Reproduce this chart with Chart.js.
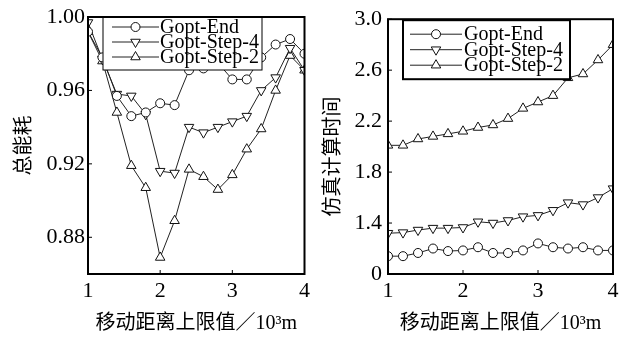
<!DOCTYPE html>
<html>
<head>
<meta charset="utf-8">
<script src="https://cdn.jsdelivr.net/npm/chart.js@4.4.0/dist/chart.umd.min.js"></script>
<style>
body { margin: 0; background: #fff; }
#wrap { position: relative; width: 629px; height: 338px; }
.box { position: absolute; top: 0; height: 338px; }
#left { left: 0; width: 314px; }
#right { left: 314px; width: 315px; }
</style>
</head>
<body>
<div id="wrap">
  <div class="box" id="left"><canvas id="energy"></canvas></div>
  <div class="box" id="right"><canvas id="simtime"></canvas></div>
</div>
<script>
// x = upper limit of move distance (10^3 m)
const xValues = [1.0, 1.2, 1.4, 1.6, 1.8, 2.0, 2.2, 2.4, 2.6, 2.8, 3.0, 3.2, 3.4, 3.6, 3.8, 4.0];
const seriesNames = ['Gopt-End', 'Gopt-Step-4', 'Gopt-Step-2'];

// left: total energy
const energyEnd   = [0.992, 0.978, 0.957, 0.946, 0.948, 0.953, 0.952, 0.971, 0.972, 0.975, 0.966, 0.966, 0.978, 0.985, 0.988, 0.980];
const energyStep4 = [0.997, 0.977, 0.958, 0.957, 0.947, 0.916, 0.915, 0.940, 0.937, 0.940, 0.943, 0.946, 0.960, 0.967, 0.983, 0.971];
const energyStep2 = [0.992, 0.976, 0.948, 0.919, 0.907, 0.869, 0.889, 0.917, 0.913, 0.906, 0.914, 0.928, 0.939, 0.960, 0.979, 0.971];

// right: simulation time
const timeEnd   = [1.14, 1.14, 1.165, 1.20, 1.18, 1.185, 1.21, 1.165, 1.165, 1.185, 1.24, 1.21, 1.20, 1.21, 1.185, 1.185];
const timeStep4 = [1.32, 1.325, 1.345, 1.36, 1.36, 1.365, 1.41, 1.40, 1.42, 1.45, 1.46, 1.50, 1.56, 1.545, 1.60, 1.67];
const timeStep2 = [2.01, 2.01, 2.06, 2.08, 2.10, 2.12, 2.15, 2.17, 2.22, 2.30, 2.35, 2.40, 2.54, 2.57, 2.68, 2.80];

const xTicks = [1, 2, 3, 4];
const energyTicks = [0.88, 0.92, 0.96, 1.00];
const energyTickLabels = ['0.88', '0.92', '0.96', '1.00'];
const timeTicks = [1.0, 1.4, 1.8, 2.2, 2.6, 3.0];
const timeTickLabels = ['0', '1.4', '1.8', '2.2', '2.6', '3.0'];

const xTitle = '移动距离上限值／10³m';

Chart.defaults.font.family = '"Liberation Serif", "Noto Sans CJK SC", serif';
Chart.defaults.color = '#000';

const markers = [
  {pointStyle: 'circle', rotation: 0, radius: 4.5},
  {pointStyle: 'triangle', rotation: 180, radius: 5.5},
  {pointStyle: 'triangle', rotation: 0, radius: 5.5}
];

const makeDataset = (label, values, i) => ({
  label,
  data: values.map((v, k) => ({x: xValues[k], y: v})),
  borderColor: '#222',
  borderWidth: 1,
  pointStyle: markers[i].pointStyle,
  rotation: markers[i].rotation,
  pointRadius: markers[i].radius,
  pointBackgroundColor: '#fff',
  pointBorderColor: '#111',
  pointBorderWidth: 1,
  tension: 0
});

// frame, inward ticks and boxed legend inside the plot
const framePlugin = {
  id: 'frame',
  afterDraw(chart, args, opts) {
    const {ctx, chartArea: a, scales} = chart;
    ctx.save();

    // legend
    const L = opts.legend;
    const bx = a.left + L.dx, by = a.top + L.dy;
    ctx.fillStyle = '#fff';
    ctx.fillRect(bx, by, L.w, L.h);
    ctx.strokeStyle = '#000';
    ctx.lineWidth = L.border;
    ctx.strokeRect(bx, by, L.w, L.h);
    ctx.font = L.fontSize + 'px "Liberation Serif", serif';
    ctx.textBaseline = 'middle';
    chart.data.datasets.forEach((ds, i) => {
      const ry = by + L.first + i * L.gap;
      ctx.strokeStyle = '#222';
      ctx.lineWidth = 1;
      ctx.beginPath();
      ctx.moveTo(bx + L.lineFrom, ry);
      ctx.lineTo(bx + L.lineTo, ry);
      ctx.stroke();
      ctx.fillStyle = '#fff';
      ctx.strokeStyle = '#111';
      Chart.helpers.drawPoint(ctx, {
        pointStyle: ds.pointStyle, rotation: ds.rotation,
        radius: ds.pointRadius, borderWidth: 1
      }, bx + (L.lineFrom + L.lineTo) / 2, ry);
      ctx.fillStyle = '#000';
      ctx.fillText(ds.label, bx + L.text, ry + 1);
    });

    // inward ticks
    ctx.strokeStyle = '#000';
    ctx.lineWidth = 1;
    ctx.beginPath();
    scales.x.ticks.forEach(t => {
      const px = scales.x.getPixelForValue(t.value);
      ctx.moveTo(px, a.bottom);
      ctx.lineTo(px, a.bottom - 4);
    });
    scales.y.ticks.forEach(t => {
      const py = scales.y.getPixelForValue(t.value);
      ctx.moveTo(a.left, py);
      ctx.lineTo(a.left + 4, py);
    });
    ctx.stroke();

    // box
    ctx.lineWidth = opts.lineWidth;
    ctx.strokeRect(a.left, a.top, a.right - a.left, a.bottom - a.top);
    ctx.restore();
  }
};

const buildChart = (id, cfg) => new Chart(document.getElementById(id), {
  type: 'line',
  data: {
    datasets: cfg.series.map((s, i) => makeDataset(seriesNames[i], s, i))
  },
  options: {
    responsive: true,
    maintainAspectRatio: false,
    animation: false,
    layout: {padding: {top: 17, right: cfg.padRight, left: 0, bottom: 2}},
    plugins: {
      legend: {display: false},
      tooltip: {enabled: false},
      frame: {lineWidth: cfg.frameWidth, legend: cfg.legend}
    },
    scales: {
      x: {
        type: 'linear',
        min: 1, max: 4,
        afterBuildTicks: s => { s.ticks = xTicks.map(v => ({value: v})); },
        afterFit: s => { s.height = cfg.xHeight; },
        grid: {display: false, drawTicks: false},
        border: {display: false},
        ticks: {font: {size: 22}, padding: 4, maxRotation: 0, callback: v => String(v)},
        title: {display: true, text: xTitle, font: {size: 20}, padding: {top: 0, bottom: 0}}
      },
      y: {
        min: cfg.yMin, max: cfg.yMax,
        afterBuildTicks: s => { s.ticks = cfg.yTicks.map(v => ({value: v})); },
        afterFit: s => { s.width = cfg.yWidth; },
        grid: {display: false, drawTicks: false},
        border: {display: false},
        ticks: {
          font: {size: 22}, padding: cfg.yPad,
          callback: v => cfg.yLabels[cfg.yTicks.findIndex(t => Math.abs(t - v) < 1e-9)]
        },
        title: {display: true, text: cfg.yTitle, font: {size: 20}, padding: {top: cfg.yTitlePad, bottom: 0}}
      }
    }
  },
  plugins: [framePlugin]
});

buildChart('energy', {
  series: [energyEnd, energyStep4, energyStep2],
  yMin: 0.86, yMax: 1.00,
  yTicks: energyTicks, yLabels: energyTickLabels,
  yTitle: '总能耗',
  yWidth: 88, yPad: 3, yTitlePad: 13,
  xHeight: 62,
  padRight: 6,
  frameWidth: 2,
  legend: {dx: 15, dy: 0, w: 159, h: 53, first: 10, gap: 15, lineFrom: 9, lineTo: 56, text: 57, border: 1, fontSize: 20}
});

buildChart('simtime', {
  series: [timeEnd, timeStep4, timeStep2],
  yMin: 1.0, yMax: 3.0,
  yTicks: timeTicks, yLabels: timeTickLabels,
  yTitle: '仿真计算时间\u3000',
  yWidth: 74, yPad: 6, yTitlePad: 8,
  xHeight: 62,
  padRight: 16,
  frameWidth: 2,
  legend: {dx: 15, dy: 1, w: 167, h: 59, first: 14, gap: 15.5, lineFrom: 7, lineTo: 59, text: 61, border: 2, fontSize: 20}
});
</script>
</body>
</html>
